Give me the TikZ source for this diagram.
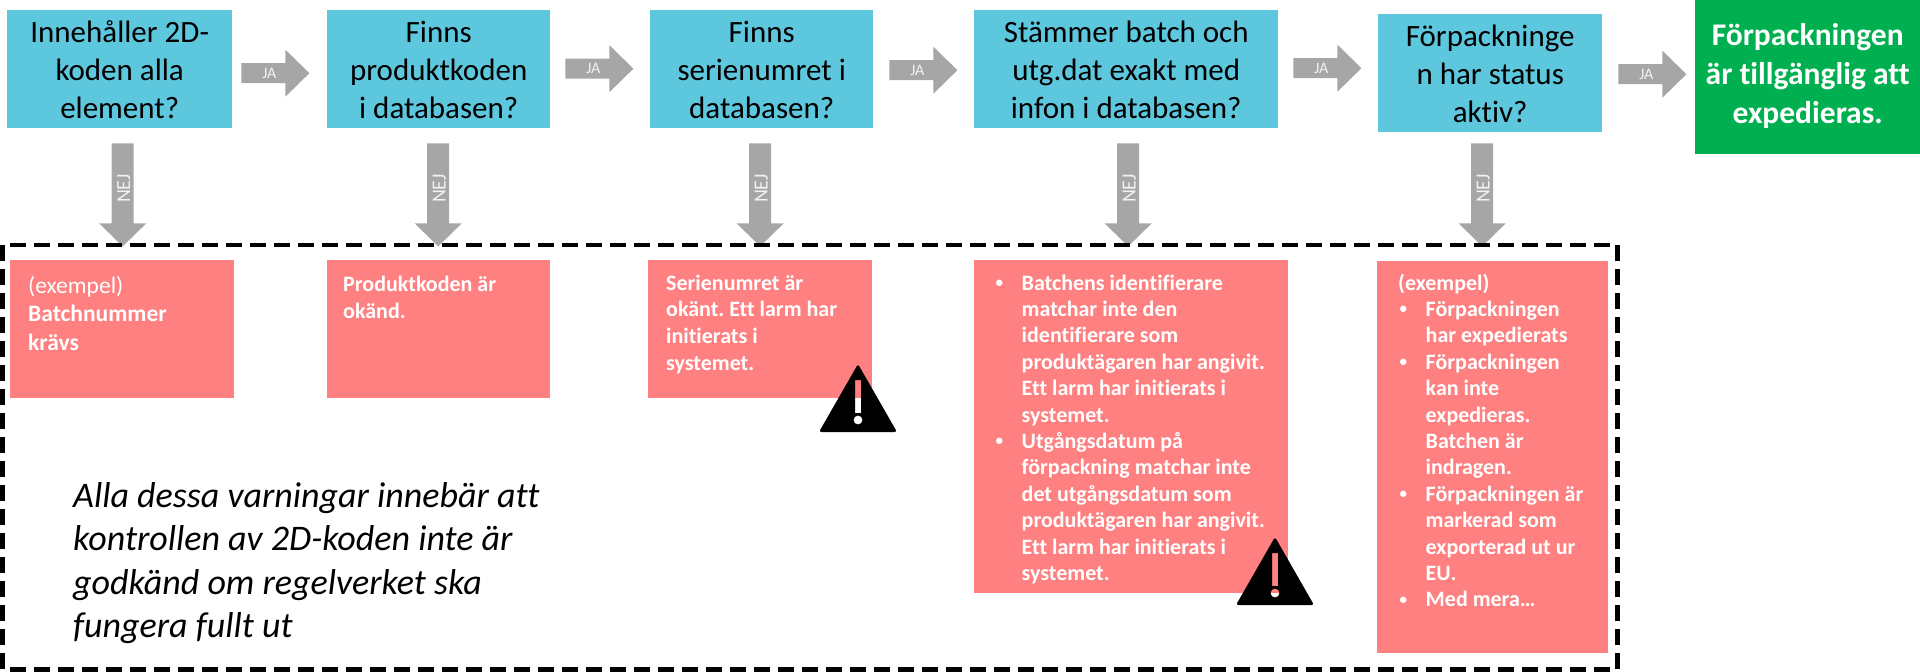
\documentclass[tikz,border=0pt]{standalone}
\usepackage{fontspec}
\setmainfont{Carlito}[Ligatures=NoCommon]
\usetikzlibrary{calc}
\frenchspacing
\definecolor{qcyan}{RGB}{93,199,221}
\definecolor{wred}{RGB}{255,128,128}
\definecolor{okgreen}{RGB}{0,176,80}
\definecolor{arrgray}{RGB}{166,166,166}
\definecolor{lbl}{RGB}{242,242,242}
\newcommand\rbul{\makebox[27.5pt][l]{\hspace*{1.5pt}\raisebox{2.5pt}{\fontsize{15}{15}\selectfont •}}}
\newcommand\rind{\hspace*{27.5pt}}
\tikzset{
  qbox/.style={fill=qcyan, draw=none, inner sep=0pt, anchor=north west},
  gbox/.style={fill=okgreen, draw=none, inner sep=0pt, anchor=north west},
  wbox/.style={fill=wred, draw=none, inner sep=0pt, anchor=north west},
  qtext/.style={anchor=base, inner sep=0pt, font=\fontsize{31}{38}\selectfont, text=black},
  gtext/.style={anchor=base, inner sep=0pt, font=\fontsize{31.5}{39}\selectfont\bfseries, text=white},
  wtext/.style={anchor=base west, inner sep=0pt, font=\fontsize{22}{26.4}\selectfont\bfseries, text=white},
  jatext/.style={inner sep=0pt, font=\fontsize{16}{18}\selectfont, text=lbl},
  nejtext/.style={inner sep=0pt, font=\fontsize{20}{22}\selectfont, text=lbl},
  noteText/.style={anchor=base west, inner sep=0pt, font=\fontsize{36}{43.5}\selectfont\itshape, text=black},
  groupframe/.style={draw=black, line width=4.5pt, dash pattern=on 16pt off 8pt},
  jaarrow/.pic={
    \fill[arrgray] (0,-10) -- (44,-10) -- (44,-23.5) -- (68,0) -- (44,23.5) -- (44,10) -- (0,10) -- cycle;
    \node[jatext] at (28,0) {JA};
  },
  nejarrow/.pic={
    \fill[arrgray] (-11,0) -- (11,0) -- (11,80) -- (23.5,80) -- (0,103) -- (-23.5,80) -- (-11,80) -- cycle;
    \node[nejtext, rotate=90] at (1,45) {NEJ};
  },
  warnsign/.pic={
    \fill[black, even odd rule, rounded corners=2.5pt] (0,0) -- (39,68) -- (-39,68) -- cycle
      [sharp corners] (-3,16) rectangle (3,49) (0,56) circle (4.5pt);
  }
}
\begin{document}
\begin{tikzpicture}[x=1pt,y=-1pt]
\useasboundingbox (0,0) rectangle (1920,672);
% question boxes
\node[qbox, minimum width=225pt, minimum height=118pt] (b1) at (7,10) {};
\node[qbox, minimum width=223pt, minimum height=118pt] (b2) at (327,10) {};
\node[qbox, minimum width=223pt, minimum height=118pt] (b3) at (650,10) {};
\node[qbox, minimum width=304pt, minimum height=118pt] (b4) at (974,10) {};
\node[qbox, minimum width=224pt, minimum height=118pt] (b5) at (1378,14) {};
\node[gbox, minimum width=225pt, minimum height=154pt] (ok) at (1695,0) {};
\node[qtext] (t1) at ($(b1.north)+(0,32)$) {\parbox[t]{280pt}{\centering Innehåller 2D-\\koden alla\\element?}};
\node[qtext] (t2) at ($(b2.north)+(0,32)$) {\parbox[t]{280pt}{\centering Finns\\produktkoden\\i databasen?}};
\node[qtext] (t3) at ($(b3.north)+(0,32)$) {\parbox[t]{280pt}{\centering Finns\\serienumret i\\databasen?}};
\node[qtext] (t4) at ($(b4.north)+(0,32)$) {\parbox[t]{320pt}{\centering Stämmer batch och\\utg.dat exakt med\\infon i databasen?}};
\node[qtext] (t5) at ($(b5.north)+(0,32)$) {\parbox[t]{280pt}{\centering Förpackninge\\n har status\\aktiv?}};
\node[gtext] (t6) at ($(ok.north)+(0,45)$) {\parbox[t]{280pt}{\centering Förpackningen\\är tillgänglig att\\expedieras.}};
% JA arrows
\pic at ($(b1.east)+(9,4)$) {jaarrow};
\pic at ($(b2.east)+(15,-0.5)$) {jaarrow};
\pic at ($(b3.east)+(16,1)$) {jaarrow};
\pic at ($(b4.east)+(15,-1)$) {jaarrow};
\pic at ($(b5.east)+(16,1)$) {jaarrow};
% NEJ arrows
\pic at ($(b1.south)+(3,15)$) {nejarrow};
\pic at ($(b2.south)+(-0.5,15)$) {nejarrow};
\pic at ($(b3.south)+(-1.5,15)$) {nejarrow};
\pic at ($(b4.south)+(2,15)$) {nejarrow};
\pic at ($(b5.south)+(-8,11)$) {nejarrow};
% warning boxes
\node[wbox, minimum width=224pt, minimum height=138pt] (r1) at (10,260) {};
\node[wbox, minimum width=223pt, minimum height=138pt] (r2) at (327,260) {};
\node[wbox, minimum width=224pt, minimum height=138pt] (r3) at (648,260) {};
\node[wbox, minimum width=314pt, minimum height=333pt] (r4) at (974,260) {};
\node[wbox, minimum width=231pt, minimum height=392pt] (r5) at (1377,261) {};
\node[wtext] (w1) at (28,293) {\parbox[t]{210pt}{\raggedright\fontsize{23.5}{28.5}\selectfont{\mdseries (exempel)}\\Batchnummer\\krävs}};
\node[wtext] (w2) at (343,291) {\parbox[t]{210pt}{\raggedright\fontsize{22}{27}\selectfont Produktkoden är\\okänd.}};
\node[wtext] (w3) at (666,290) {\parbox[t]{210pt}{\raggedright\fontsize{22}{26.7}\selectfont Serienumret är\\okänt. Ett larm har\\initierats i\\systemet.}};
\node[wtext] (w4) at (994,290) {\parbox[t]{320pt}{\raggedright
\rbul Batchens identifierare\\
\rind matchar inte den\\
\rind identifierare som\\
\rind produktägaren har angivit.\\
\rind Ett larm har initierats i\\
\rind systemet.\\
\rbul Utgångsdatum på\\
\rind förpackning matchar inte\\
\rind det utgångsdatum som\\
\rind produktägaren har angivit.\\
\rind Ett larm har initierats i\\
\rind systemet.}};
\node[wtext] (w5) at (1398,290) {\parbox[t]{260pt}{\raggedright
(exempel)\\
\rbul Förpackningen\\
\rind har expedierats\\
\rbul Förpackningen\\
\rind kan inte\\
\rind expedieras.\\
\rind Batchen är\\
\rind indragen.\\
\rbul Förpackningen är\\
\rind markerad som\\
\rind exporterad ut ur\\
\rind EU.\\
\rbul Med mera…}};
% warning signs
\pic at (858,364) {warnsign};
\pic at (1275,537) {warnsign};
% note
\node[noteText] (note) at (73,507) {\parbox[t]{600pt}{\raggedright Alla dessa varningar innebär att\\kontrollen av 2D-koden inte är\\godkänd om regelverket ska\\fungera fullt ut}};
% group frame
\draw[groupframe] (2.5,245) rectangle (1617.5,669.5);
\end{tikzpicture}
\end{document}
